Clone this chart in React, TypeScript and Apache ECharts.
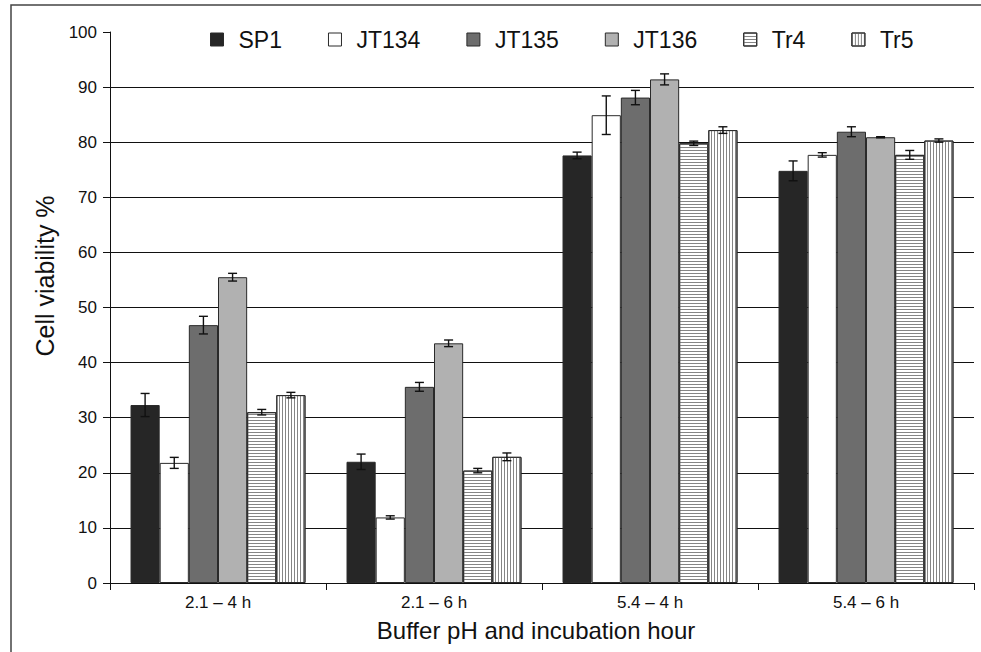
import React, { useEffect, useRef } from "react";
import * as echarts from "echarts";

const categories = ["2.1 – 4 h", "2.1 – 6 h", "5.4 – 4 h", "5.4 – 6 h"];
const seriesNames = ["SP1", "JT134", "JT135", "JT136", "Tr4", "Tr5"];
const sp1 = [32.3, 22.0, 77.6, 74.8];
const sp1Err = [2.1, 1.4, 0.6, 1.8];
const jt134 = [21.8, 11.9, 84.9, 77.7];
const jt134Err = [1.0, 0.3, 3.5, 0.4];
const jt135 = [46.8, 35.6, 88.1, 81.9];
const jt135Err = [1.6, 0.8, 1.3, 0.9];
const jt136 = [55.5, 43.5, 91.4, 80.9];
const jt136Err = [0.7, 0.6, 1.0, 0.1];
const tr4 = [31.0, 20.4, 79.8, 77.7];
const tr4Err = [0.5, 0.4, 0.4, 0.8];
const tr5 = [34.1, 22.9, 82.2, 80.3];
const tr5Err = [0.5, 0.7, 0.6, 0.3];
const yTicks = [0, 10, 20, 30, 40, 50, 60, 70, 80, 90, 100];

const values = [sp1, jt134, jt135, jt136, tr4, tr5];
const errors = [sp1Err, jt134Err, jt135Err, jt136Err, tr4Err, tr5Err];

const FONT = "'Liberation Sans', Arial, Helvetica, sans-serif";

export default function App() {
  const ref = useRef<HTMLDivElement>(null);

  useEffect(() => {
    if (!ref.current) return;
    const chart = echarts.init(ref.current, null, { renderer: "svg" });

    const colors = ["#262626", "#ffffff", "#6d6d6d", "#b1b1b1", "#ffffff", "#ffffff"];
    const decals: any[] = [
      null,
      null,
      null,
      null,
      { symbol: "rect", symbolSize: 1, color: "#858585", dashArrayX: [[8, 0]], dashArrayY: [1, 2], rotation: 0 },
      { symbol: "rect", symbolSize: 1, color: "#858585", dashArrayX: [[1, 2]], dashArrayY: [8, 0], rotation: 0 },
    ];
    const nSeries = seriesNames.length;
    const catGapRatio = 0.19;

    const barSeries = seriesNames.map((name, i) => ({
      name,
      type: "bar",
      data: values[i],
      barGap: "0%",
      barCategoryGap: "19%",
      z: 2,
      itemStyle: {
        color: colors[i],
        borderColor: "#2a2a2a",
        borderWidth: 1,
        ...(decals[i] ? { decal: decals[i] } : {}),
      },
    }));

    const errData: number[][] = [];
    for (let s = 0; s < nSeries; s++) {
      for (let c = 0; c < categories.length; c++) {
        errData.push([c, values[s][c], errors[s][c], s]);
      }
    }

    const errSeries = {
      type: "custom",
      name: "err",
      z: 5,
      silent: true,
      data: errData,
      encode: { x: 0, y: 1 },
      renderItem: (params: any, api: any) => {
        const c = api.value(0);
        const v = api.value(1);
        const e = api.value(2);
        const s = api.value(3);
        const bandW = api.size([1, 0])[0];
        const barW = (bandW * (1 - catGapRatio)) / nSeries;
        const center = api.coord([c, v]);
        const x = center[0] + (s - (nSeries - 1) / 2) * barW;
        const yTop = api.coord([c, v + e])[1];
        const yBot = api.coord([c, v - e])[1];
        const hw = 4.5;
        const style = { stroke: "#111", lineWidth: 1.4 };
        return {
          type: "group",
          children: [
            { type: "line", shape: { x1: x, y1: yTop, x2: x, y2: yBot }, style },
            { type: "line", shape: { x1: x - hw, y1: yTop, x2: x + hw, y2: yTop }, style },
            { type: "line", shape: { x1: x - hw, y1: yBot, x2: x + hw, y2: yBot }, style },
          ],
        };
      },
    };

    const splitColors = yTicks.map((t) => (t === 100 ? "rgba(0,0,0,0)" : "#111"));

    chart.setOption({
      animation: false,
      backgroundColor: "#ffffff",
      textStyle: { fontFamily: FONT },
      grid: { left: 110, right: 7, top: 32, bottom: 69, containLabel: false },
      legend: {
        data: seriesNames,
        left: 205,
        top: 23,
        itemWidth: 13,
        itemHeight: 13,
        itemGap: 46,
        icon: "rect",
        textStyle: { fontSize: 23, color: "#111", fontFamily: FONT, padding: [0, 0, 0, 10] },
        itemStyle: { borderColor: "#2a2a2a", borderWidth: 1 },
      },
      xAxis: {
        type: "category",
        data: categories,
        name: "Buffer pH and incubation hour",
        nameLocation: "middle",
        nameGap: 35,
        nameTextStyle: { fontSize: 24, color: "#111", fontFamily: FONT, padding: [0, 12, 0, 0] },
        axisLine: { lineStyle: { color: "#111", width: 1 } },
        axisTick: { show: true, length: 7, inside: false, lineStyle: { color: "#111" } },
        axisLabel: { fontSize: 17, color: "#111", margin: 11, fontFamily: FONT },
        splitLine: { show: false },
      },
      yAxis: {
        type: "value",
        min: 0,
        max: 100,
        interval: 10,
        name: "Cell viability %",
        nameLocation: "middle",
        nameGap: 50,
        nameTextStyle: { fontSize: 25, color: "#111", fontFamily: FONT, padding: [0, 0, 0, 63] },
        axisLine: { show: true, lineStyle: { color: "#111", width: 1 } },
        axisTick: { show: true, length: 7, inside: false, lineStyle: { color: "#111" } },
        axisLabel: { fontSize: 17, color: "#111", margin: 13, fontFamily: FONT },
        splitLine: { show: true, lineStyle: { color: splitColors, width: 1 } },
      },
      graphic: [
        {
          type: "rect",
          silent: true,
          shape: { x: 11, y: 5, width: 1000, height: 700 },
          style: { fill: "none", stroke: "#444", lineWidth: 1.5 },
          z: -1,
        },
      ],
      series: [...barSeries, errSeries],
    });

    return () => chart.dispose();
  }, []);

  return (
    <div
      ref={ref}
      style={{ position: "fixed", left: 0, top: 0, width: 981, height: 652, background: "#fff" }}
    />
  );
}
